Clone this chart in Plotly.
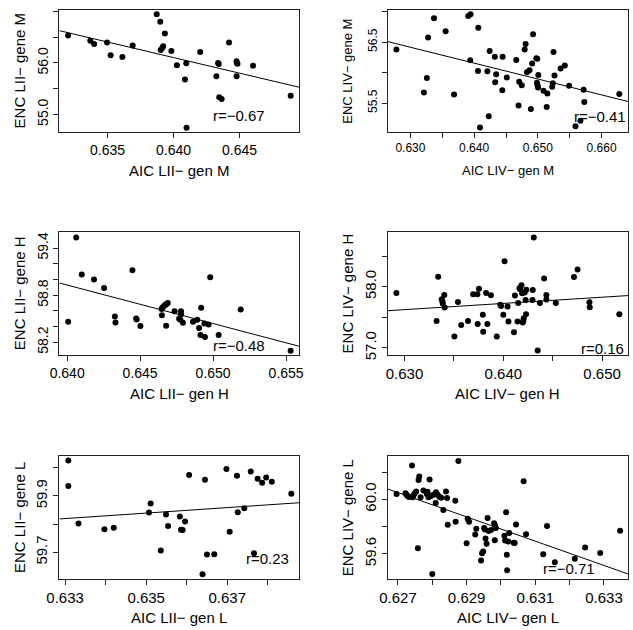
import numpy as np
import plotly.graph_objects as go

# ---------------- data ----------------
p1_x = [0.63201,0.63369,0.63398,0.63496,0.63523,0.63612,0.63690,0.63872,0.63899,0.63934,
        0.63902,0.63914,0.63921,0.63983,0.64025,0.64086,0.64096,0.64098,0.64201,0.64324,
        0.64337,0.64342,0.64346,0.64364,0.64420,0.64477,0.64479,0.64484,0.64477,0.64602,0.64887]
p1_y = [56.535,56.432,56.368,56.400,56.148,56.116,56.342,56.948,56.800,56.574,
        56.252,56.290,56.323,56.232,55.955,55.677,55.994,54.742,56.213,55.742,
        56.000,55.981,55.335,55.297,56.400,56.032,56.000,55.987,55.742,55.948,55.361]

p2_x = [0.62780,0.63212,0.63258,0.63278,0.63370,0.63553,0.63685,0.63908,0.63944,0.63939,
        0.64066,0.64061,0.64092,0.64208,0.64229,0.64244,0.64325,0.64346,0.64330,0.64447,
        0.64442,0.64513,0.64661,0.64697,0.64707,0.64747,0.64808,0.64793,0.64829,0.64869,
        0.64890,0.64910,0.64925,0.64976,0.64991,0.65007,0.64986,0.64996,0.65002,0.65088,
        0.65149,0.65139,0.65225,0.65235,0.65246,0.65261,0.65357,0.65423,0.65490,0.65591,
        0.65668,0.65718,0.65729,0.66278]
p2_y = [56.380,55.674,55.913,56.576,56.891,56.679,55.641,56.929,56.957,56.201,
        56.734,56.027,55.098,56.022,55.283,56.353,56.261,55.973,55.842,56.261,
        55.712,55.918,56.207,55.462,55.848,55.793,56.467,56.380,56.005,56.038,
        55.402,56.147,56.630,56.234,56.228,55.962,55.832,55.788,55.755,55.701,
        55.658,55.435,55.766,55.826,56.337,55.951,56.065,56.114,55.783,55.120,
        55.212,55.717,55.516,55.647]

p3_x = [0.64007,0.64062,0.64100,0.64184,0.64253,0.64327,0.64331,0.64447,0.64473,0.64476,
        0.64502,0.64647,0.64653,0.64662,0.64671,0.64680,0.64689,0.64649,0.64678,0.64736,
        0.64780,0.64780,0.64767,0.64776,0.64793,0.64862,0.64891,0.64904,0.64918,0.64913,
        0.64940,0.64944,0.64969,0.64980,0.65038,0.65189,0.65531]
p3_y = [58.461,59.535,59.063,59.000,58.891,58.528,58.453,59.118,58.503,58.491,
        58.406,58.625,58.642,58.659,58.676,58.688,58.701,58.545,58.411,58.596,
        58.596,58.558,58.499,58.486,58.448,58.461,58.486,58.381,58.638,58.293,
        58.440,58.267,58.427,59.029,58.293,58.617,58.091]

p4_x = [0.62918,0.63325,0.63341,0.63377,0.63384,0.63387,0.63403,0.63407,0.63505,0.63541,
        0.63574,0.63643,0.63695,0.63738,0.63741,0.63754,0.63793,0.63797,0.63826,0.63839,
        0.63875,0.63934,0.63970,0.63977,0.64000,0.64013,0.64043,0.64052,0.64108,0.64118,
        0.64144,0.64151,0.64164,0.64170,0.64184,0.64190,0.64197,0.64203,0.64207,0.64216,
        0.64226,0.64230,0.64233,0.64298,0.64295,0.64308,0.64348,0.64370,0.64413,0.64436,
        0.64436,0.64531,0.64715,0.64751,0.64872,0.64875,0.65174]
p4_y = [57.897,57.438,58.162,57.795,57.762,57.724,57.865,57.659,57.184,57.751,
        57.373,57.438,57.876,57.876,57.389,57.968,57.541,57.265,57.897,57.389,
        57.859,57.184,57.703,57.686,57.541,58.416,57.676,57.432,57.254,57.854,
        57.432,57.735,57.973,57.957,58.022,57.892,57.416,57.443,57.486,57.903,
        57.784,57.551,57.951,57.946,57.784,58.805,56.957,57.735,58.135,57.865,
        57.789,57.735,58.157,58.281,57.746,57.665,57.551]

p5_x = [0.63308,0.63308,0.63333,0.63397,0.63420,0.63507,0.63511,0.63536,0.63549,0.63554,
        0.63583,0.63586,0.63590,0.63596,0.63606,0.63639,0.63645,0.63650,0.63668,0.63698,
        0.63706,0.63724,0.63726,0.63742,0.63758,0.63766,0.63775,0.63786,0.63796,0.63810,0.63858]
p5_y = [60.026,59.936,59.802,59.782,59.787,59.841,59.873,59.706,59.834,59.793,
        59.827,59.780,59.779,59.809,59.975,59.622,59.958,59.692,59.693,59.996,
        59.773,59.972,59.842,59.856,59.987,59.696,59.961,59.947,59.966,59.951,59.908]

p6_x = [0.62696,0.62722,0.62725,0.62728,0.62732,0.62741,0.62743,0.62746,0.62749,0.62753,
        0.62760,0.62762,0.62766,0.62774,0.62784,0.62786,0.62789,0.62792,0.62796,0.62803,
        0.62810,0.62811,0.62816,0.62821,0.62826,0.62832,0.62840,0.62843,0.62845,0.62758,
        0.62800,0.62867,0.62868,0.62876,0.62900,0.62903,0.62907,0.62925,0.62928,0.62942,
        0.62945,0.62948,0.62951,0.62953,0.62955,0.62958,0.62961,0.62964,0.62971,0.62980,
        0.62983,0.62985,0.62982,0.63010,0.63012,0.63015,0.63017,0.63018,0.63021,0.63024,
        0.63037,0.63040,0.63044,0.63066,0.63073,0.63123,0.63134,0.63157,0.63215,0.63245,
        0.63289,0.63347]
p6_y = [60.039,60.044,60.034,60.024,60.017,60.247,60.015,60.034,60.044,60.058,
        60.141,60.167,60.015,60.065,60.039,60.056,60.015,60.145,60.024,60.034,
        59.973,60.051,60.032,60.017,60.012,59.922,60.058,60.010,59.813,59.641,
        59.452,59.990,59.835,60.281,59.678,59.857,59.835,59.741,59.784,59.552,
        59.605,59.617,59.789,59.779,59.712,59.675,59.862,59.767,59.775,59.825,
        59.806,59.789,59.699,59.733,59.697,59.905,59.593,59.479,59.690,59.753,
        59.682,59.680,59.816,60.133,59.743,59.598,59.804,59.539,59.564,59.646,
        59.607,59.770]

x_titles = ["AIC LII\u2212 gen M", "AIC LIV\u2212 gen M", "AIC LII\u2212 gen H",
            "AIC LIV\u2212 gen H", "AIC LII\u2212 gen L", "AIC LIV\u2212 gen L"]
y_titles = ["ENC LII\u2212 gene M", "ENC LIV\u2212 gene M", "ENC LII\u2212 gene H",
            "ENC LIV\u2212 gene H", "ENC LII\u2212 gene L", "ENC LIV\u2212 gene L"]
r_labels = ["r=\u22120.67", "r=\u22120.41", "r=\u22120.48", "r=0.16", "r=0.23", "r=\u22120.71"]

x_tickvals = [[0.635, 0.640, 0.645],
              [0.630, 0.635, 0.640, 0.645, 0.650, 0.655, 0.660],
              [0.640, 0.645, 0.650, 0.655],
              [0.630, 0.635, 0.640, 0.645, 0.650],
              [0.633, 0.634, 0.635, 0.636, 0.637, 0.638],
              [0.627, 0.628, 0.629, 0.630, 0.631, 0.632, 0.633]]
x_ticktext = [["0.635", "0.640", "0.645"],
              ["0.630", "", "0.640", "", "0.650", "", "0.660"],
              ["0.640", "0.645", "0.650", "0.655"],
              ["0.630", "", "0.640", "", "0.650"],
              ["0.633", "", "0.635", "", "0.637", ""],
              ["0.627", "", "0.629", "", "0.631", "", "0.633"]]
y_tickvals = [[55.0, 55.5, 56.0, 56.5, 57.0],
              [55.5, 56.0, 56.5, 57.0],
              [58.2, 58.4, 58.6, 58.8, 59.0, 59.2, 59.4],
              [57.0, 57.5, 58.0, 58.5],
              [59.7, 59.8, 59.9, 60.0],
              [59.6, 59.8, 60.0, 60.2]]
y_ticktext = [["55.0", "", "56.0", "", "57.0"],
              ["55.5", "", "56.5", ""],
              ["58.2", "", "", "58.8", "", "", "59.4"],
              ["57.0", "", "58.0", ""],
              ["59.7", "", "59.9", ""],
              ["59.6", "", "60.0", ""]]

# ---------------- layout geometry ----------------
W, H = 633, 630
x_ranges = [[0.63135, 0.64953], [0.62643, 0.66415], [0.63947, 0.65591],
            [0.62830, 0.65262], [0.63286, 0.63878], [0.62670, 0.63370]]
y_ranges = [[54.658, 57.032], [55.027, 57.027], [58.040, 59.598],
            [56.886, 58.886], [59.606, 60.041], [59.418, 60.315]]
col_px = [(47.7, 294.3), (385.0, 632.0)]
row_px = [(10.0, 133.0), (234.3, 357.7), (460.0, 583.3)]
r_pos = [(0.64496, 54.987), (0.6598, 55.277), (0.65178, 58.158),
         (0.6500, 56.984), (0.63799, 59.679), (0.63198, 59.491)]
tick_font = [14, 12, 14, 15, 15, 15]
title_font = [15, 13, 15, 15, 15, 15]

xs = [p1_x, p2_x, p3_x, p4_x, p5_x, p6_x]
ys = [p1_y, p2_y, p3_y, p4_y, p5_y, p6_y]

FONT = "Liberation Sans, Arial, Helvetica, sans-serif"
fig = go.Figure()
annotations = []
for i in range(6):
    r, c = divmod(i, 2)
    sfx = "" if i == 0 else str(i + 1)
    xa, ya = "x" + sfx, "y" + sfx
    x = np.array(xs[i]); y = np.array(ys[i])
    fig.add_trace(go.Scatter(x=x, y=y, mode="markers", xaxis=xa, yaxis=ya,
                             marker=dict(color="black", size=6), showlegend=False,
                             hoverinfo="skip", cliponaxis=False))
    b, a = np.polyfit(x, y, 1)
    lx = np.array(x_ranges[i])
    fig.add_trace(go.Scatter(x=lx, y=a + b * lx, mode="lines", xaxis=xa, yaxis=ya,
                             line=dict(color="black", width=1), showlegend=False,
                             hoverinfo="skip"))
    x0, x1 = col_px[c]; y0, y1 = row_px[r]
    common = dict(showgrid=False, zeroline=False, showline=True, mirror=True,
                  linecolor="#222", linewidth=1, ticks="outside", ticklen=5,
                  tickcolor="#222", tickwidth=1,
                  tickfont=dict(family=FONT, size=tick_font[i], color="black"))
    fig.layout["xaxis" + sfx] = dict(domain=[x0 / W, x1 / W], range=x_ranges[i],
                                     anchor=ya, tickmode="array", tickvals=x_tickvals[i],
                                     ticktext=x_ticktext[i], **common)
    fig.layout["yaxis" + sfx] = dict(domain=[1 - y1 / H, 1 - y0 / H], range=y_ranges[i],
                                     anchor=xa, tickmode="array", tickvals=y_tickvals[i],
                                     ticktext=y_ticktext[i], tickangle=-90, **common)
    annotations.append(dict(text=x_titles[i], xref="paper", yref="paper",
                            x=(x0 + x1) / 2 / W, y=1 - (y1 + 39) / H, showarrow=False,
                            xanchor="center", yanchor="middle",
                            font=dict(family=FONT, size=title_font[i], color="black")))
    annotations.append(dict(text=y_titles[i], xref="paper", yref="paper",
                            x=(x0 - 41) / W, y=1 - (y0 + y1) / 2 / H, showarrow=False,
                            textangle=-90, xanchor="center", yanchor="middle",
                            font=dict(family=FONT, size=title_font[i], color="black")))
    annotations.append(dict(text=r_labels[i], xref=xa, yref=ya, x=r_pos[i][0],
                            y=r_pos[i][1], showarrow=False, xanchor="center",
                            yanchor="middle",
                            font=dict(family=FONT, size=15, color="black")))

fig.update_layout(width=W, height=H, margin=dict(l=0, r=0, t=0, b=0),
                  paper_bgcolor="white", plot_bgcolor="white",
                  annotations=annotations, font=dict(family=FONT))
fig.write_html("out.html", config={"displayModeBar": False},
               post_script="document.body.style.margin='0px';"
                           "document.body.style.overflow='hidden';")
